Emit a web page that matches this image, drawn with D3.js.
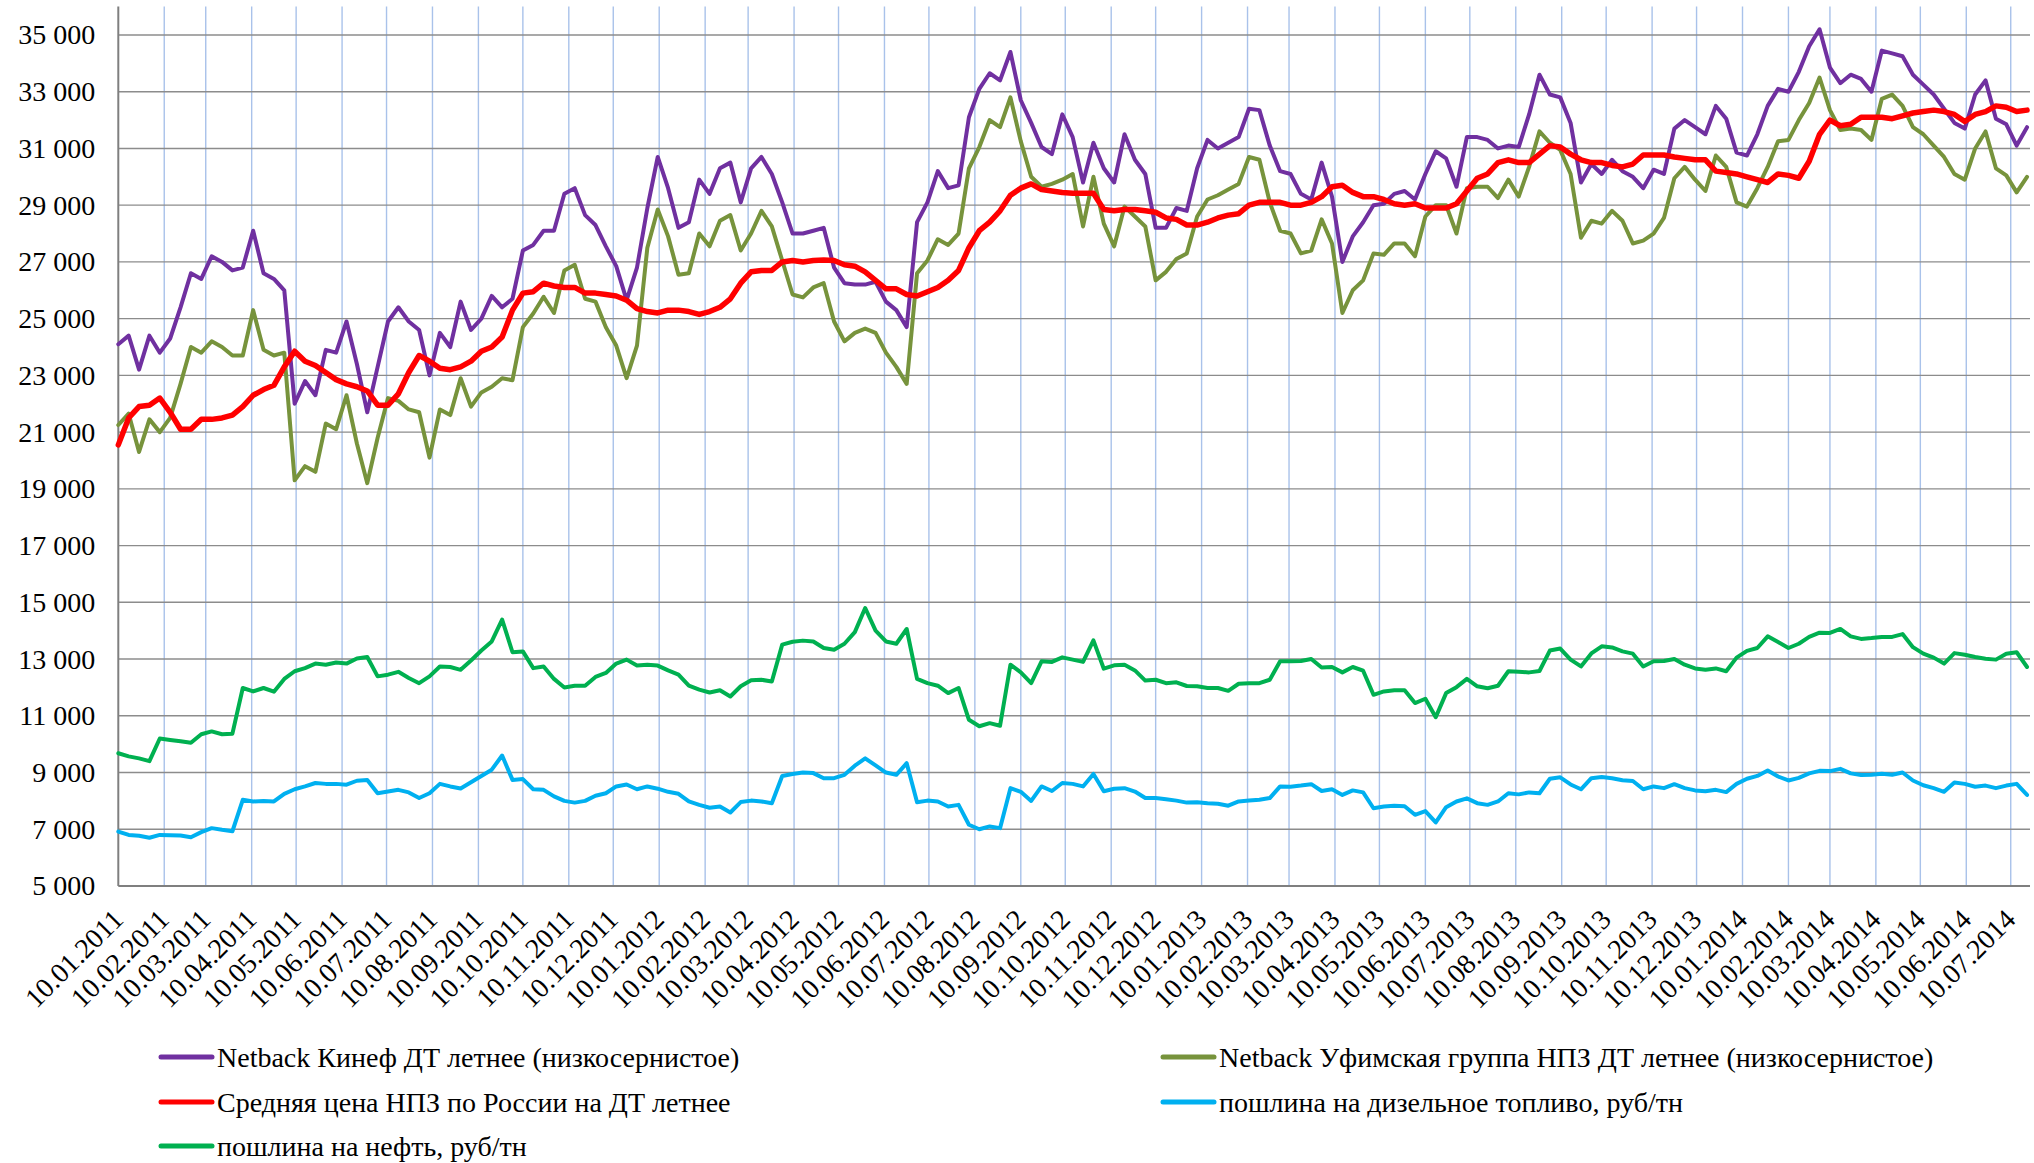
<!DOCTYPE html>
<html>
<head>
<meta charset="utf-8">
<title>Netback ДТ летнее</title>
<script src="https://d3js.org/d3.v7.min.js"></script>
<style>
  body { margin: 0; background: #fff; }
  text { font-family: "Liberation Serif", "Times New Roman", serif; fill: #000; }
</style>
</head>
<body>
<div id="chart"></div>
<script>
// weekly samples, starting 10.01.2011
var startDate = "2011-01-10";
var stepDays = 7;

var kinef = [24100,24400,23200,24400,23800,24300,25400,26600,26400,27200,27000,26700,26800,28100,26600,26400,26000,22000,22800,22300,
  23900,23800,24900,23400,21700,23300,24900,25400,24900,24600,23000,24500,24000,25600,24600,25000,25800,25400,25700,27400,
  27600,28100,28100,29400,29600,28650,28300,27550,26850,25650,26800,28900,30700,29600,28200,28400,29900,29400,30300,30500,
  29100,30300,30700,30100,29100,28000,28000,28100,28200,26800,26250,26200,26200,26300,25600,25300,24700,28400,29100,30200,
  29600,29700,32100,33100,33650,33400,34400,32700,31900,31050,30800,32200,31400,29800,31200,30300,29800,31500,30600,30100,
  28200,28200,28900,28800,30300,31300,31000,31200,31400,32400,32350,31100,30200,30100,29400,29200,30500,29300,27000,27900,
  28400,29000,29050,29400,29500,29200,30100,30900,30650,29650,31400,31400,31300,31000,31100,31050,32200,33600,32900,32800,
  31900,29800,30450,30100,30600,30200,30000,29600,30250,30100,31700,32000,31750,31500,32500,32050,30850,30750,31500,32500,
  33100,33000,33700,34600,35200,33850,33300,33600,33450,33000,34450,34350,34250,33600,33250,32900,32400,31900,31700,32900,
  33400,32050,31850,31100,31750];

var ufa = [21250,21650,20300,21450,21000,21500,22700,24000,23800,24200,24000,23700,23700,25300,23900,23700,23800,19300,19800,19600,
  21300,21100,22300,20600,19200,20800,22200,22100,21800,21700,20100,21800,21600,22900,21900,22400,22600,22900,22830,24700,
  25180,25770,25200,26700,26900,25700,25600,24700,24050,22900,24050,27500,28850,27900,26550,26600,28000,27550,28450,28650,
  27400,28000,28800,28250,27050,25850,25750,26100,26250,24900,24200,24500,24650,24500,23800,23300,22700,26600,27050,27800,
  27600,28000,30300,31050,32000,31750,32800,31250,30000,29650,29750,29900,30100,28250,30000,28350,27550,28950,28600,28250,
  26350,26650,27100,27300,28600,29200,29350,29550,29750,30700,30600,29100,28100,28000,27300,27400,28500,27650,25200,26000,
  26350,27300,27250,27650,27650,27200,28600,29000,29000,28000,29600,29650,29650,29250,29900,29300,30350,31600,31200,30950,
  30100,27850,28450,28350,28800,28450,27650,27750,28000,28550,29950,30350,29900,29500,30750,30350,29100,28950,29600,30350,
  31250,31300,32000,32600,33500,32350,31650,31700,31650,31300,32750,32900,32500,31750,31500,31100,30700,30100,29900,31000,
  31600,30300,30050,29450,30000];

var avgRussia = [20550,21500,21900,21950,22200,21700,21100,21100,21450,21450,21500,21600,21900,22300,22500,22650,23300,23850,23500,23350,
  23100,22850,22700,22600,22450,21950,21950,22350,23100,23700,23500,23250,23200,23300,23500,23850,24000,24350,25300,25900,
  25950,26250,26150,26100,26100,25900,25900,25850,25800,25650,25350,25250,25200,25300,25300,25250,25150,25250,25400,25700,
  26250,26650,26700,26700,27000,27050,27000,27050,27070,27050,26900,26850,26650,26350,26050,26050,25850,25800,25950,26100,
  26350,26700,27500,28100,28400,28800,29350,29600,29750,29550,29500,29450,29420,29420,29420,28850,28800,28850,28850,28800,
  28750,28550,28500,28300,28300,28400,28550,28650,28700,29000,29100,29100,29100,29000,29000,29100,29300,29650,29700,29450,
  29300,29300,29200,29050,29000,29050,28900,28900,28900,29050,29500,29950,30100,30500,30600,30500,30500,30800,31100,31050,
  30800,30600,30500,30500,30400,30350,30450,30770,30770,30770,30700,30650,30600,30600,30200,30150,30100,30000,29900,29800,
  30100,30050,29950,30550,31500,32000,31800,31850,32100,32100,32100,32050,32150,32250,32300,32350,32300,32200,31950,32200,
  32300,32500,32450,32300,32350];

var dieselDuty = [6920,6800,6770,6700,6800,6790,6780,6720,6900,7040,6980,6930,8040,7980,8000,7980,8250,8410,8510,8630,
  8600,8600,8570,8710,8740,8270,8330,8390,8300,8100,8270,8600,8510,8440,8660,8880,9100,9600,8740,8770,
  8410,8390,8160,8000,7940,8000,8180,8270,8510,8580,8410,8510,8430,8320,8250,7980,7860,7760,7800,7590,
  7960,8010,7980,7920,8880,8950,9000,8980,8800,8800,8920,9240,9500,9250,9000,8920,9330,7950,8010,7980,
  7800,7860,7160,7000,7100,7040,8450,8320,8000,8510,8350,8630,8600,8510,8950,8340,8430,8450,8330,8100,
  8100,8060,8010,7940,7950,7920,7900,7830,7980,8010,8040,8100,8510,8500,8540,8590,8350,8410,8210,8370,
  8300,7740,7800,7830,7810,7510,7640,7240,7780,7980,8090,7920,7860,7980,8270,8230,8300,8270,8780,8830,
  8580,8410,8800,8840,8800,8730,8700,8410,8510,8450,8590,8450,8370,8340,8390,8310,8600,8780,8880,9070,
  8860,8720,8810,8970,9060,9050,9130,8970,8910,8920,8960,8920,9000,8720,8550,8450,8320,8650,8600,8500,
  8540,8450,8540,8600,8210];

var oilDuty = [9680,9570,9500,9400,10200,10150,10100,10050,10350,10450,10350,10370,11980,11860,11980,11850,12300,12570,12680,12840,
  12800,12880,12840,13020,13070,12390,12450,12550,12330,12150,12390,12740,12720,12620,12950,13300,13620,14390,13240,13270,
  12680,12740,12300,12000,12060,12060,12370,12510,12840,12980,12770,12800,12770,12600,12450,12060,11920,11820,11900,11680,
  12040,12250,12270,12210,13510,13610,13650,13620,13390,13330,13540,13950,14800,14000,13620,13540,14060,12300,12150,12060,
  11800,11980,10860,10630,10740,10650,12800,12530,12150,12920,12900,13060,12980,12900,13660,12660,12780,12800,12600,12240,
  12270,12150,12180,12050,12040,11980,11980,11880,12130,12150,12150,12270,12920,12920,12930,13000,12700,12720,12530,12720,
  12590,11740,11860,11900,11900,11450,11600,10950,11800,12010,12300,12040,11970,12060,12570,12550,12530,12580,13300,13370,
  12980,12740,13200,13450,13410,13270,13190,12740,12920,12930,13000,12800,12670,12620,12670,12570,13050,13290,13390,13800,
  13600,13390,13540,13780,13930,13920,14060,13800,13710,13740,13780,13780,13880,13420,13190,13050,12840,13210,13150,13070,
  13010,12980,13190,13240,12720];

var yTicks = [5000,7000,9000,11000,13000,15000,17000,19000,21000,23000,25000,27000,29000,31000,33000,35000];

var seriesNames = [
  "Netback Кинеф ДТ летнее (низкосернистое)",
  "Netback Уфимская группа НПЗ ДТ летнее (низкосернистое)",
  "Средняя цена НПЗ по России на ДТ летнее",
  "пошлина на дизельное топливо, руб/тн",
  "пошлина на нефть, руб/тн"
];
var seriesColors = ["#7030A0", "#77933C", "#FF0000", "#00B0F0", "#00B050"];
var seriesValues = [kinef, ufa, avgRussia, dieselDuty, oilDuty];
var seriesWidths = [4, 4, 5.5, 4, 4];

var W = 2034, H = 1163;
var plot = {left: 118.3, right: 2030, top: 6.6, bottom: 886};

var svg = d3.select("#chart").append("svg")
  .attr("width", W)
  .attr("height", H);

var start = new Date(startDate + "T00:00:00Z");
var dates = kinef.map(function(d, i) { return d3.utcDay.offset(start, stepDays * i); });

var x = d3.scaleUtc()
  .domain([start, new Date("2014-07-23T00:00:00Z")])
  .range([plot.left, plot.right]);

var y = d3.scaleLinear()
  .domain([5000, 36000])
  .range([plot.bottom, plot.top]);

// month ticks on the 10th
var tickDates = d3.utcMonth.range(new Date("2011-01-01T00:00:00Z"), new Date("2014-07-02T00:00:00Z"))
  .map(function(m) { return d3.utcDay.offset(m, 9); });
var fmtDate = d3.utcFormat("%d.%m.%Y");

// vertical grid
svg.append("g").selectAll("line")
  .data(tickDates.slice(1))
  .enter().append("line")
  .attr("x1", function(d) { return x(d); })
  .attr("x2", function(d) { return x(d); })
  .attr("y1", plot.top)
  .attr("y2", plot.bottom)
  .attr("stroke", "#a9c2ea")
  .attr("stroke-width", 1.4);

// horizontal grid
svg.append("g").selectAll("line")
  .data(yTicks.slice(1))
  .enter().append("line")
  .attr("x1", plot.left)
  .attr("x2", plot.right)
  .attr("y1", function(d) { return y(d); })
  .attr("y2", function(d) { return y(d); })
  .attr("stroke", "#8c8c8c")
  .attr("stroke-width", 1.4);

// y axis
var yAxis = svg.append("g")
  .attr("transform", "translate(" + plot.left + ",0)")
  .call(d3.axisLeft(y).tickValues(yTicks).tickSize(0).tickPadding(23)
    .tickFormat(function(d) { return d3.format(",")(d).replace(/,/g, " "); }));
yAxis.select(".domain").attr("stroke", "#7f7f7f").attr("stroke-width", 2)
  .attr("d", "M0," + plot.top + "V" + plot.bottom);
yAxis.selectAll("text").style("font-size", "28px").attr("fill", "#000");

// x axis
var xAxis = svg.append("g")
  .attr("transform", "translate(0," + plot.bottom + ")")
  .call(d3.axisBottom(x).tickValues(tickDates).tickSize(0).tickFormat(fmtDate));
xAxis.select(".domain").attr("stroke", "#7f7f7f").attr("stroke-width", 2)
  .attr("d", "M" + plot.left + ",0H" + plot.right);
xAxis.selectAll("text")
  .style("font-size", "28px")
  .style("text-anchor", "end")
  .attr("fill", "#000")
  .attr("dy", null)
  .attr("y", 0)
  .attr("transform", "translate(6,35)rotate(-45)");

// series
var line = d3.line()
  .x(function(d, i) { return x(dates[i]); })
  .y(function(d) { return y(d); });

seriesValues.forEach(function(vals, k) {
  svg.append("path")
    .datum(vals)
    .attr("fill", "none")
    .attr("stroke", seriesColors[k])
    .attr("stroke-width", seriesWidths[k])
    .attr("stroke-linejoin", "round")
    .attr("stroke-linecap", "round")
    .attr("d", line);
});

// legend
var legendPos = [
  {x: 161, y: 1057}, {x: 1163, y: 1057},
  {x: 161, y: 1102}, {x: 1163, y: 1102},
  {x: 161, y: 1146}
];
var legend = svg.append("g").selectAll("g")
  .data(seriesNames)
  .enter().append("g")
  .attr("transform", function(d, i) { return "translate(" + legendPos[i].x + "," + legendPos[i].y + ")"; });
legend.append("line")
  .attr("x1", 0).attr("x2", 51)
  .attr("stroke", function(d, i) { return seriesColors[i]; })
  .attr("stroke-width", 5)
  .attr("stroke-linecap", "round");
legend.append("text")
  .attr("x", 56)
  .attr("dy", "0.35em")
  .style("font-size", "28px")
  .text(function(d) { return d; });
</script>
</body>
</html>
